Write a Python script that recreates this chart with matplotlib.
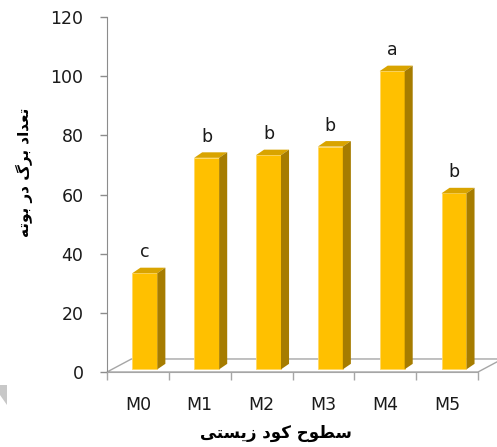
import matplotlib.pyplot as plt
import matplotlib.patches as mpatches
import numpy as np

# data
categories = ['M0', 'M1', 'M2', 'M3', 'M4', 'M5']
leaves = [32.5, 71.5, 72.4, 75.3, 100.8, 59.5]
letters = ['c', 'b', 'b', 'b', 'a', 'b']
yticks = [0, 20, 40, 60, 80, 100, 120]
xlabel = 'سطوح کود زیستی'
ylabel = 'تعداد برگ در بوته'

#
# tiny arabic/persian shaper (matplotlib has no text shaping)
#
FORMS = {
    'ا': ('\uFE8D', '\uFE8E', None, None),
    'ب': ('\uFE8F', '\uFE90', '\uFE91', '\uFE92'),
    'ت': ('\uFE95', '\uFE96', '\uFE97', '\uFE98'),
    'ح': ('\uFEA1', '\uFEA2', '\uFEA3', '\uFEA4'),
    'د': ('\uFEA9', '\uFEAA', None, None),
    'ر': ('\uFEAD', '\uFEAE', None, None),
    'ز': ('\uFEAF', '\uFEB0', None, None),
    'س': ('\uFEB1', '\uFEB2', '\uFEB3', '\uFEB4'),
    'ط': ('\uFEC1', '\uFEC2', '\uFEC3', '\uFEC4'),
    'ع': ('\uFEC9', '\uFECA', '\uFECB', '\uFECC'),
    'ه': ('\uFEE9', '\uFEEA', '\uFEEB', '\uFEEC'),
    'و': ('\uFEED', '\uFEEE', None, None),
    'ک': ('\uFB8E', '\uFB8F', '\uFB90', '\uFB91'),
    'گ': ('\uFB92', '\uFB93', '\uFB94', '\uFB95'),
    'ی': ('\uFBFC', '\uFBFD', '\uFBFE', '\uFBFF'),
}

def shape(s):
    out = []
    for i, ch in enumerate(s):
        if ch not in FORMS:
            out.append(ch)
            continue
        iso, fin, ini, med = FORMS[ch]
        prev = s[i-1] if i > 0 else ''
        nxt = s[i+1] if i + 1 < len(s) else ''
        jp = prev in FORMS and FORMS[prev][2] is not None
        jn = nxt in FORMS and ini is not None
        if jp and jn:
            out.append(med)
        elif jp:
            out.append(fin)
        elif jn:
            out.append(ini)
        else:
            out.append(iso)
    return ''.join(reversed(out))

W, H = 497, 447
fig = plt.figure(figsize=(W/100, H/100), dpi=100)
ax = fig.add_axes([107/W, 1 - 372/H, 371/W, 355/H])
ax.set_xlim(-0.5, 5.5)
ax.set_ylim(0, 120)

axis_grey = '#8c8c8c'
floor_grey = '#a6a6a6'
front = '#FFC000'
top = '#D9A400'
side = '#A67C00'

# 3d look (data units)
floor_dx, floor_dy = 0.395, 4.4
bar_l, bar_w = -0.09, 0.404
bar_base = 0.9
bar_dx, bar_dy = 0.13, 1.86

# floor
n = len(categories)
floor = mpatches.Polygon([(-0.5, 0), (n - 0.5, 0), (n - 0.5 + floor_dx, floor_dy),
                          (-0.5 + floor_dx, floor_dy)],
                         closed=True, facecolor='white', edgecolor=floor_grey,
                         lw=1.0, clip_on=False, zorder=1)
ax.add_patch(floor)

x = np.arange(n)
ax.bar(x + bar_l, leaves, width=bar_w, bottom=bar_base, align='edge',
       color=front, edgecolor='#FFD966', lw=0.6, zorder=3)
for xi, v, lab in zip(x, leaves, letters):
    x0 = xi + bar_l
    x1 = x0 + bar_w
    yt = bar_base + v
    ax.fill([x0, x1, x1 + bar_dx, x0 + bar_dx], [yt, yt, yt + bar_dy, yt + bar_dy],
            color=top, lw=0, zorder=3)
    ax.fill([x1, x1 + bar_dx, x1 + bar_dx, x1],
            [bar_base, bar_base + bar_dy, yt + bar_dy, yt],
            color=side, lw=0, zorder=3)
    ax.annotate(lab, (x0 + bar_w/2, yt), xytext=(0, 15), textcoords='offset points',
                ha='center', va='center', fontsize=12.5, color='#1a1a1a')

for s in ['top', 'right']:
    ax.spines[s].set_visible(False)
ax.spines['left'].set_color(axis_grey)
ax.spines['bottom'].set_color(floor_grey)
ax.spines['left'].set_zorder(2)

ax.set_yticks(yticks)
ax.tick_params(axis='y', direction='out', length=5, width=1, color=axis_grey,
               pad=12, labelsize=12.5, labelcolor='#1a1a1a')
ax.set_xticks(x)
ax.set_xticklabels(categories)
ax.set_xticks(np.arange(n + 1) - 0.5, minor=True)
ax.tick_params(axis='x', which='major', length=0, pad=17, labelsize=12.5,
               labelcolor='#1a1a1a')
ax.tick_params(axis='x', which='minor', direction='out', length=6, width=1,
               color=floor_grey)

fig.text(276/W, 1 - 433/H, shape(xlabel), ha='center', va='center',
         fontsize=12, fontweight='bold', family='DejaVu Sans')
fig.text(24/W, 1 - 172/H, shape(ylabel), ha='center', va='center', rotation=90,
         fontsize=11, fontweight='bold', family='DejaVu Sans')

# grey corner shape at lower left
fig.patches.append(mpatches.Polygon([(0, 1 - 385/H), (7/W, 1 - 385/H), (7/W, 1 - 405/H),
                                     (0, 1 - 395/H)], closed=True, transform=fig.transFigure,
                                    facecolor='#c8c8c8', edgecolor='none'))

fig.savefig('out.png', dpi=100)
